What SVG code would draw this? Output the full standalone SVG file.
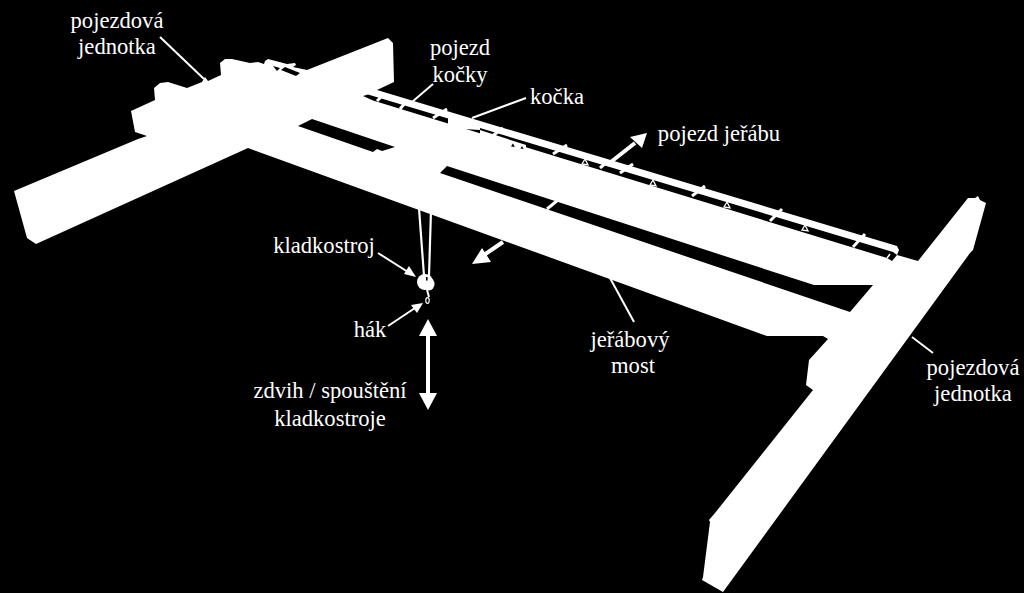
<svg xmlns="http://www.w3.org/2000/svg" width="1024" height="593" viewBox="0 0 1024 593">
<style>
.w{fill:#fff}
.k{fill:#000}
.tie{stroke:#fff;stroke-width:3;fill:none}
.tri{stroke:#fff;stroke-width:1.3;fill:#000}
.lead{stroke:#fff;stroke-width:2;fill:none}
.rope{stroke:#fff;stroke-width:2.2;fill:none}
.shaft{stroke:#fff;stroke-width:4;fill:none}
text{font-family:"Liberation Serif","Times New Roman",serif;font-size:22.6px;fill:#fff;text-anchor:middle}
</style>
<rect width="1024" height="593" fill="#000"/>
<g id="crane-structure">
<polygon class="w" points="14,191 138,139 147,136 135,132 131,111 155,100 154,88 160,83 168,82 187,88 202,82 205,77 208,81 221,75 220,63 225,59 232,59 250,63 258,62 264,64 265,61 268,59 287,64 295,63 296,65 293,67 307,70 388,38 393,43 394,82 377,90 897,246 899,250 897,255 918,261 968,198 975,198 978,196 980,200 986,203 973,250 970,253 723,592 702,580 703,577 710,522 709,520 715,513 813,390 806,385 809,360 828,339 823,336 767,336 248,148 36,244 27,238 14,191"/>
<polygon class="k" points="273,66 280,68 277,71"/>
<polygon class="k" points="281,70 285,67 300,73 296,76"/>
<polygon class="k" points="312,119 298,126 373,152 377,149 382,151 395,147"/>
<polygon class="k" points="447,166 440,173 850,312 873,285 814,285"/>
<line class="tie" x1="558" y1="200" x2="547" y2="209"/>
<polygon class="k" points="363,96 368,94.4 893,252 897,255 892,261 887,258 373,100.5"/>
<polygon class="w" points="448,114 480,124 480,136 526,151 526,145 480,130 448,128"/>
<g id="rail-ties">
<line class="tie" x1="382" y1="96" x2="377" y2="101"/>
<line class="tie" x1="405" y1="103" x2="400" y2="109"/>
<line class="tie" x1="447" y1="109" x2="433" y2="118"/>
<line class="tie" x1="503" y1="128" x2="491" y2="137"/>
<line class="tie" x1="567" y1="145" x2="553" y2="154"/>
<line class="tie" x1="608" y1="161" x2="600" y2="168"/>
<line class="tie" x1="633" y1="164" x2="620" y2="173"/>
<line class="tie" x1="705" y1="186" x2="692" y2="196"/>
<line class="tie" x1="782" y1="209" x2="770" y2="221"/>
<line class="tie" x1="865" y1="234" x2="853" y2="247"/>
<line x1="890" y1="254" x2="887" y2="258" stroke="#fff" stroke-width="1.5"/>
<polygon class="tri" points="513,142 510,147 516,148"/>
<polygon class="tri" points="522,145 519,149 525,150"/>
<polygon class="tri" points="585,159 582,164 588,165"/>
<polygon class="tri" points="653,180 650,185 656,186"/>
<polygon class="tri" points="727,202 724,207 730,208"/>
<polygon class="tri" points="805,225 802,230 808,231"/>
</g>
</g>
<g id="hoist">
<line class="rope" x1="419" y1="208" x2="424" y2="276"/>
<line class="rope" x1="431" y1="210" x2="429" y2="276"/>
<circle class="w" cx="425" cy="282" r="8"/>
<ellipse class="w" cx="429" cy="284" rx="5.5" ry="6.5"/>
<rect class="k" x="426" y="277" width="1.6" height="3.5"/>
<line x1="427" y1="290" x2="429" y2="297" stroke="#fff" stroke-width="2"/>
<ellipse cx="427.5" cy="300.5" rx="1.7" ry="2.8" fill="none" stroke="#fff" stroke-width="1.2"/>
</g>
<g id="connectors">
<line class="lead" x1="160" y1="37" x2="204" y2="79"/>
<line class="lead" x1="433" y1="84" x2="412" y2="102"/>
<line class="lead" x1="526" y1="98" x2="472" y2="118"/>
<line class="lead" x1="610" y1="278" x2="634" y2="322"/>
<line class="lead" x1="912" y1="337" x2="933" y2="353"/>
<line class="lead" x1="378" y1="253" x2="408" y2="272"/>
<polygon class="w" points="416,277 404,274 409,266"/>
<line class="lead" x1="388" y1="326" x2="415" y2="308"/>
<polygon class="w" points="423,303 417,313 411,305"/>
<line class="shaft" x1="607" y1="165" x2="635" y2="143"/>
<polygon class="w" points="647,133 630,137 642,148"/>
<line class="shaft" x1="503" y1="242" x2="484" y2="255"/>
<polygon class="w" points="472,264 482,248 491,262"/>
<line class="shaft" x1="428" y1="332" x2="428" y2="397"/>
<polygon class="w" points="428,319 437,336 419,336"/>
<polygon class="w" points="428,410 419,393 437,393"/>
</g>
<g id="label-pojezdova-1"><text x="117" y="28">pojezdová</text><text x="117" y="54">jednotka</text></g>
<g id="label-pojezd-kocky"><text x="460" y="55">pojezd</text><text x="460" y="82">kočky</text></g>
<g id="label-kocka"><text x="557" y="104">kočka</text></g>
<g id="label-pojezd-jerabu"><text x="719" y="141">pojezd jeřábu</text></g>
<g id="label-kladkostroj"><text x="324" y="253">kladkostroj</text></g>
<g id="label-hak"><text x="370" y="337">hák</text></g>
<g id="label-zdvih"><text x="330" y="398">zdvih / spouštění</text><text x="330" y="426">kladkostroje</text></g>
<g id="label-most"><text x="630" y="347">jeřábový</text><text x="633" y="373">most</text></g>
<g id="label-pojezdova-2"><text x="973" y="375">pojezdová</text><text x="973" y="401">jednotka</text></g>
</svg>
